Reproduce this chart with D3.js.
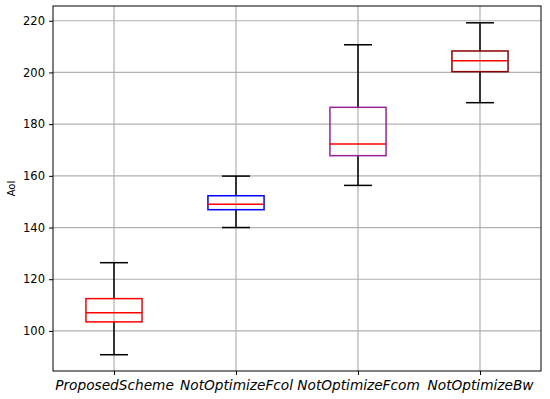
<!DOCTYPE html>
<html>
<head>
<meta charset="utf-8">
<script src="https://cdn.jsdelivr.net/npm/d3@7"></script>
<style>
  body { margin: 0; background: #fff; }
  svg text { font-family: "DejaVu Sans", sans-serif; }
</style>
</head>
<body>
<div id="chart"></div>
<script>
// box statistics
const categories = ['ProposedScheme', 'NotOptimizeFcol', 'NotOptimizeFcom', 'NotOptimizeBw'];
const whiskerLow = [90.8, 140.0, 156.3, 188.3];
const q1 = [103.5, 146.9, 167.8, 200.3];
const median = [107.0, 149.0, 172.3, 204.5];
const q3 = [112.5, 152.3, 186.5, 208.3];
const whiskerHigh = [126.4, 159.9, 210.7, 219.2];
const boxColors = ['#ff0000', '#0000ff', '#992299', '#8b0000'];
const yTicks = [100, 120, 140, 160, 180, 200, 220];

const width = 550, height = 399;
const margin = { top: 6, right: 9, bottom: 28, left: 53 };
const w = width - margin.left - margin.right;
const h = height - margin.top - margin.bottom;

const svg = d3.select('#chart').append('svg')
    .attr('width', width).attr('height', height);
const g = svg.append('g').attr('transform', `translate(${margin.left},${margin.top})`);

const x = d3.scaleLinear().domain([0.5, 4.5]).range([0, w]);
const y = d3.scaleLinear().domain([84.5, 225.7]).range([h, 0]);

// grid
g.append('g').selectAll('line').data(yTicks).join('line')
    .attr('x1', 0).attr('x2', w).attr('y1', d => y(d)).attr('y2', d => y(d))
    .attr('stroke', '#b0b0b0').attr('stroke-width', 1.2);
g.append('g').selectAll('line').data(categories).join('line')
    .attr('x1', (d, i) => x(i + 1)).attr('x2', (d, i) => x(i + 1))
    .attr('y1', 0).attr('y2', h)
    .attr('stroke', '#b0b0b0').attr('stroke-width', 1.2);

const boxW = x(1.46) - x(1);
const capW = boxW / 2;

const boxes = g.append('g').selectAll('g').data(categories).join('g')
    .attr('transform', (d, i) => `translate(${x(i + 1)},0)`);

// whiskers
boxes.append('line').attr('x1', 0).attr('x2', 0)
    .attr('y1', (d, i) => y(whiskerLow[i])).attr('y2', (d, i) => y(q1[i]))
    .attr('stroke', '#000').attr('stroke-width', 1.5);
boxes.append('line').attr('x1', 0).attr('x2', 0)
    .attr('y1', (d, i) => y(q3[i])).attr('y2', (d, i) => y(whiskerHigh[i]))
    .attr('stroke', '#000').attr('stroke-width', 1.5);
boxes.append('line').attr('x1', -capW / 2).attr('x2', capW / 2)
    .attr('y1', (d, i) => y(whiskerLow[i])).attr('y2', (d, i) => y(whiskerLow[i]))
    .attr('stroke', '#000').attr('stroke-width', 1.5);
boxes.append('line').attr('x1', -capW / 2).attr('x2', capW / 2)
    .attr('y1', (d, i) => y(whiskerHigh[i])).attr('y2', (d, i) => y(whiskerHigh[i]))
    .attr('stroke', '#000').attr('stroke-width', 1.5);

// boxes
boxes.append('rect')
    .attr('x', -boxW / 2).attr('width', boxW)
    .attr('y', (d, i) => y(q3[i])).attr('height', (d, i) => y(q1[i]) - y(q3[i]))
    .attr('fill', 'none').attr('stroke', (d, i) => boxColors[i]).attr('stroke-width', 1.5);
boxes.append('line').attr('x1', -boxW / 2).attr('x2', boxW / 2)
    .attr('y1', (d, i) => y(median[i])).attr('y2', (d, i) => y(median[i]))
    .attr('stroke', '#ff0000').attr('stroke-width', 1.5);

// axes
const yAxis = g.append('g').call(d3.axisLeft(y).tickValues(yTicks).tickSize(4).tickPadding(4));
const xAxis = g.append('g').attr('transform', `translate(0,${h})`)
    .call(d3.axisBottom(x).tickValues([1, 2, 3, 4]).tickFormat((d, i) => categories[i]).tickSize(4).tickPadding(5));
[yAxis, xAxis].forEach(a => {
    a.select('.domain').remove();
    a.selectAll('line').attr('stroke', '#000').attr('stroke-width', 1);
    a.selectAll('text').attr('fill', '#000').style('font-family', '"DejaVu Sans", sans-serif');
});
yAxis.selectAll('text').style('font-size', '11.5px');
xAxis.selectAll('text').style('font-size', '13.7px').style('font-style', 'italic');

// frame
g.append('rect').attr('width', w).attr('height', h)
    .attr('fill', 'none').attr('stroke', '#000').attr('stroke-width', 1);

svg.append('text')
    .attr('transform', `translate(15,${margin.top + h / 2}) rotate(-90)`)
    .attr('text-anchor', 'middle').style('font-size', '10px')
    .text('AoI');
</script>
</body>
</html>
